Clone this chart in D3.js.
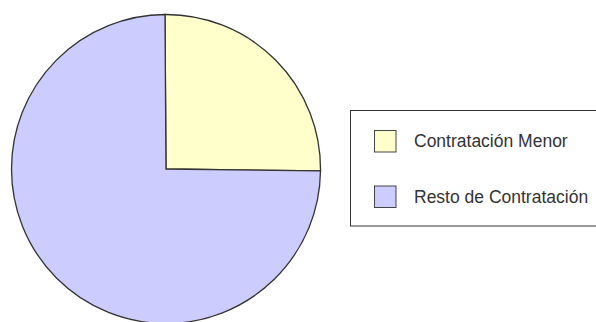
<!DOCTYPE html>
<html>
<head>
<meta charset="utf-8">
<script src="https://cdn.jsdelivr.net/npm/d3@7"></script>
<style>
  html, body { margin: 0; padding: 0; background: #fff; }
  svg { display: block; }
</style>
</head>
<body>
<svg id="chart" width="596" height="322"></svg>
<script>
// Share of contracting by type (percent)
const categories = ["Contratación Menor", "Resto de Contratación"];
const values = [25.3, 74.7];
const colors = ["#ffffcc", "#ccccff"];

const svg = d3.select("#chart");
const cx = 166, cy = 169, r = 154.5;

const color = d3.scaleOrdinal().domain(categories).range(colors);

const pie = d3.pie()
  .sort(null)
  .value(d => d.value)
  .startAngle(-0.0065)
  .endAngle(2 * Math.PI - 0.0065);

const arc = d3.arc().innerRadius(0).outerRadius(r);

const data = categories.map((c, i) => ({ name: c, value: values[i] }));

svg.append("g")
  .attr("transform", `translate(${cx},${cy})`)
  .selectAll("path")
  .data(pie(data))
  .join("path")
  .attr("d", arc)
  .attr("fill", d => color(d.data.name))
  .attr("stroke", "#333")
  .attr("stroke-width", 1.3)
  .attr("stroke-linejoin", "miter");

// Legend
const legend = svg.append("g");
legend.append("rect")
  .attr("x", 350.5).attr("y", 110.5)
  .attr("width", 260).attr("height", 115.5)
  .attr("fill", "#fff")
  .attr("stroke", "#333")
  .attr("stroke-width", 1);

const rowY = d3.scalePoint().domain(categories).range([130.5, 186]);

const items = legend.selectAll("g.item")
  .data(categories)
  .join("g")
  .attr("class", "item");

items.append("rect")
  .attr("x", 374.5)
  .attr("y", d => rowY(d))
  .attr("width", 21.5).attr("height", 21.5)
  .attr("fill", d => color(d))
  .attr("stroke", "#444")
  .attr("stroke-width", 1);

items.append("text")
  .attr("x", 414)
  .attr("y", d => rowY(d) + 16.5)
  .attr("font-family", "'Liberation Sans', Arial, sans-serif")
  .attr("font-size", 17.5)
  .attr("fill", "#333")
  .text(d => d);
</script>
</body>
</html>
